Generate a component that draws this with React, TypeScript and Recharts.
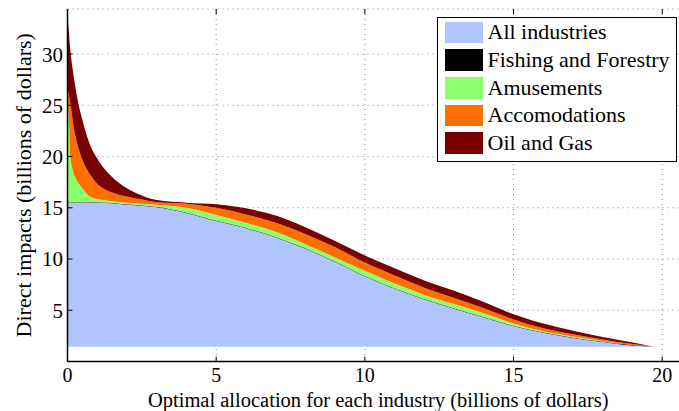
import React from "react";
import { Area, AreaChart, CartesianGrid, XAxis, YAxis } from "recharts";

// optimal allocation (billions of dollars)
const allocation = [0, 0.05, 0.1, 0.2, 0.35, 0.5, 0.75, 1, 1.5, 2, 2.5, 3, 4, 5, 6, 7, 8, 9, 10, 11, 12, 13, 14, 15, 16, 17, 18, 19, 19.7];

// every area sits on this level
const floorLevel = 1.45;

// stacked contributions (billions of dollars)
const allIndustries = [14.05, 14.05, 14.05, 14.05, 14.05, 14.05, 14.05, 14.05, 14.0, 13.85, 13.75, 13.6, 13.05, 12.25, 11.55, 10.65, 9.55, 8.25, 6.85, 5.65, 4.6, 3.7, 2.85, 2.0, 1.35, 0.85, 0.45, 0.1, 0];
const fishingForestry = [0.05, 0.05, 0.05, 0.05, 0.05, 0.05, 0.05, 0.05, 0.05, 0.05, 0.05, 0.05, 0.05, 0.05, 0.05, 0.05, 0.05, 0.05, 0.05, 0.05, 0.05, 0.05, 0.05, 0.05, 0.05, 0.05, 0.05, 0.05, 0];
const amusements = [10.25, 7.75, 4.35, 2.9, 1.95, 1.35, 0.55, 0.3, 0.15, 0.15, 0.15, 0.2, 0.45, 0.55, 0.5, 0.5, 0.4, 0.4, 0.5, 0.45, 0.4, 0.4, 0.35, 0.2, 0.1, 0.1, 0.05, 0, 0];
const accomodations = [1.0, 2.6, 5.2, 4.55, 3.5, 2.8, 2.2, 1.5, 0.85, 0.6, 0.4, 0.25, 0.4, 0.7, 0.8, 0.9, 1.0, 1.0, 0.8, 0.8, 0.7, 0.6, 0.5, 0.4, 0.3, 0.2, 0.15, 0.1, 0];
const oilGas = [7.2, 6.1, 5.2, 5.0, 4.4, 3.9, 2.9, 2.45, 1.5, 0.8, 0.4, 0.2, 0.1, 0.35, 0.6, 0.7, 0.65, 0.6, 0.7, 0.7, 0.7, 0.7, 0.6, 0.5, 0.45, 0.35, 0.25, 0.15, 0];

const seriesNames = ["All industries", "Fishing and Forestry", "Amusements", "Accomodations", "Oil and Gas"];
const seriesKeys = ["all", "fishing", "amusements", "accomodations", "oilGas"];
const seriesColors = ["#b0c4ff", "#000000", "#8cff6e", "#ff6f00", "#780000"];

const xTicks = [0, 5, 10, 15, 20];
const yTicks = [5, 10, 15, 20, 25, 30];

const data = allocation.map((x, i) => ({
  x,
  floor: floorLevel,
  all: allIndustries[i],
  fishing: fishingForestry[i],
  amusements: amusements[i],
  accomodations: accomodations[i],
  oilGas: oilGas[i],
}));

const FONT = "Liberation Serif, DejaVu Serif, serif";
const PLOT_TOP = 9;
const PLOT_BOTTOM = 361.5;
const PLOT_LEFT = 67.5;

const XTick = (props: any) => {
  const { x, y, payload } = props;
  return (
    <g>
      <line x1={x} x2={x} y1={PLOT_BOTTOM} y2={PLOT_BOTTOM - 5} stroke="#000" />
      <line x1={x} x2={x} y1={PLOT_TOP} y2={PLOT_TOP + 5} stroke="#000" />
      <text x={x} y={y} dy="0.71em" textAnchor="middle" fontFamily={FONT} fontSize={20} fill="#000">
        {payload.value}
      </text>
    </g>
  );
};

const YTick = (props: any) => {
  const { x, y, payload } = props;
  return (
    <g>
      <line x1={PLOT_LEFT} x2={PLOT_LEFT + 5} y1={y} y2={y} stroke="#000" />
      <text x={x} y={y} dy="0.355em" textAnchor="end" fontFamily={FONT} fontSize={21} fill="#000">
        {payload.value}
      </text>
    </g>
  );
};

const LegendBox = () => (
  <div
    style={{
      position: "absolute",
      left: 437,
      top: 17,
      width: 240,
      height: 144.7,
      boxSizing: "border-box",
      border: "1.5px solid #000",
      background: "#fff",
      paddingTop: 0.5,
      paddingLeft: 6.5,
      fontFamily: FONT,
      fontSize: 22,
      color: "#000",
    }}
  >
    {seriesNames.map((name, i) => (
      <div key={name} style={{ display: "flex", alignItems: "center", height: 27.7 }}>
        <div style={{ width: 38, height: 21.7, background: seriesColors[i], marginRight: 5, flexShrink: 0 }} />
        <span style={{ whiteSpace: "nowrap", lineHeight: "22px" }}>{name}</span>
      </div>
    ))}
  </div>
);

export default function App() {
  return (
    <div style={{ position: "absolute", left: 0, top: 0, width: 679, height: 411, overflow: "hidden", background: "#fff" }}>
      <AreaChart width={689} height={411} data={data} margin={{ top: PLOT_TOP, right: 0, bottom: 0, left: 0 }}>
        <CartesianGrid stroke="#888" strokeDasharray="1 4" />
        <XAxis
          dataKey="x"
          type="number"
          domain={[0, 20.9]}
          ticks={xTicks}
          height={49.5}
          tickSize={0}
          tickMargin={6}
          tick={<XTick />}
          axisLine={{ stroke: "#000", strokeWidth: 1.5 }}
          tickLine={false}
          allowDataOverflow
          label={{ value: "Optimal allocation for each industry (billions of dollars)", position: "insideBottom", offset: 4.5, fontFamily: FONT, fontSize: 20.5, fill: "#000" }}
        />
        <XAxis
          xAxisId="top"
          orientation="top"
          dataKey="x"
          type="number"
          domain={[0, 20.9]}
          height={0}
          tick={false}
          tickLine={false}
          axisLine={{ stroke: "#000", strokeWidth: 1.5 }}
        />
        <YAxis
          type="number"
          domain={[0, 34.4]}
          ticks={yTicks}
          width={PLOT_LEFT}
          tickSize={0}
          tickMargin={4.5}
          tick={<YTick />}
          axisLine={{ stroke: "#000", strokeWidth: 1.5 }}
          tickLine={false}
          allowDataOverflow
          label={{ value: "Direct impacts (billions of dollars)", angle: -90, position: "insideLeft", offset: 23, fontFamily: FONT, fontSize: 22, fill: "#000", style: { textAnchor: "middle" } }}
        />
        <Area dataKey="floor" stackId="s" type="monotone" stroke="none" fill="none" isAnimationActive={false} />
        {seriesKeys.map((k, i) => (
          <Area
            key={k}
            dataKey={k}
            name={seriesNames[i]}
            stackId="s"
            type="monotone"
            stroke="none"
            fill={seriesColors[i]}
            fillOpacity={1}
            isAnimationActive={false}
          />
        ))}
      </AreaChart>
      <LegendBox />
    </div>
  );
}
